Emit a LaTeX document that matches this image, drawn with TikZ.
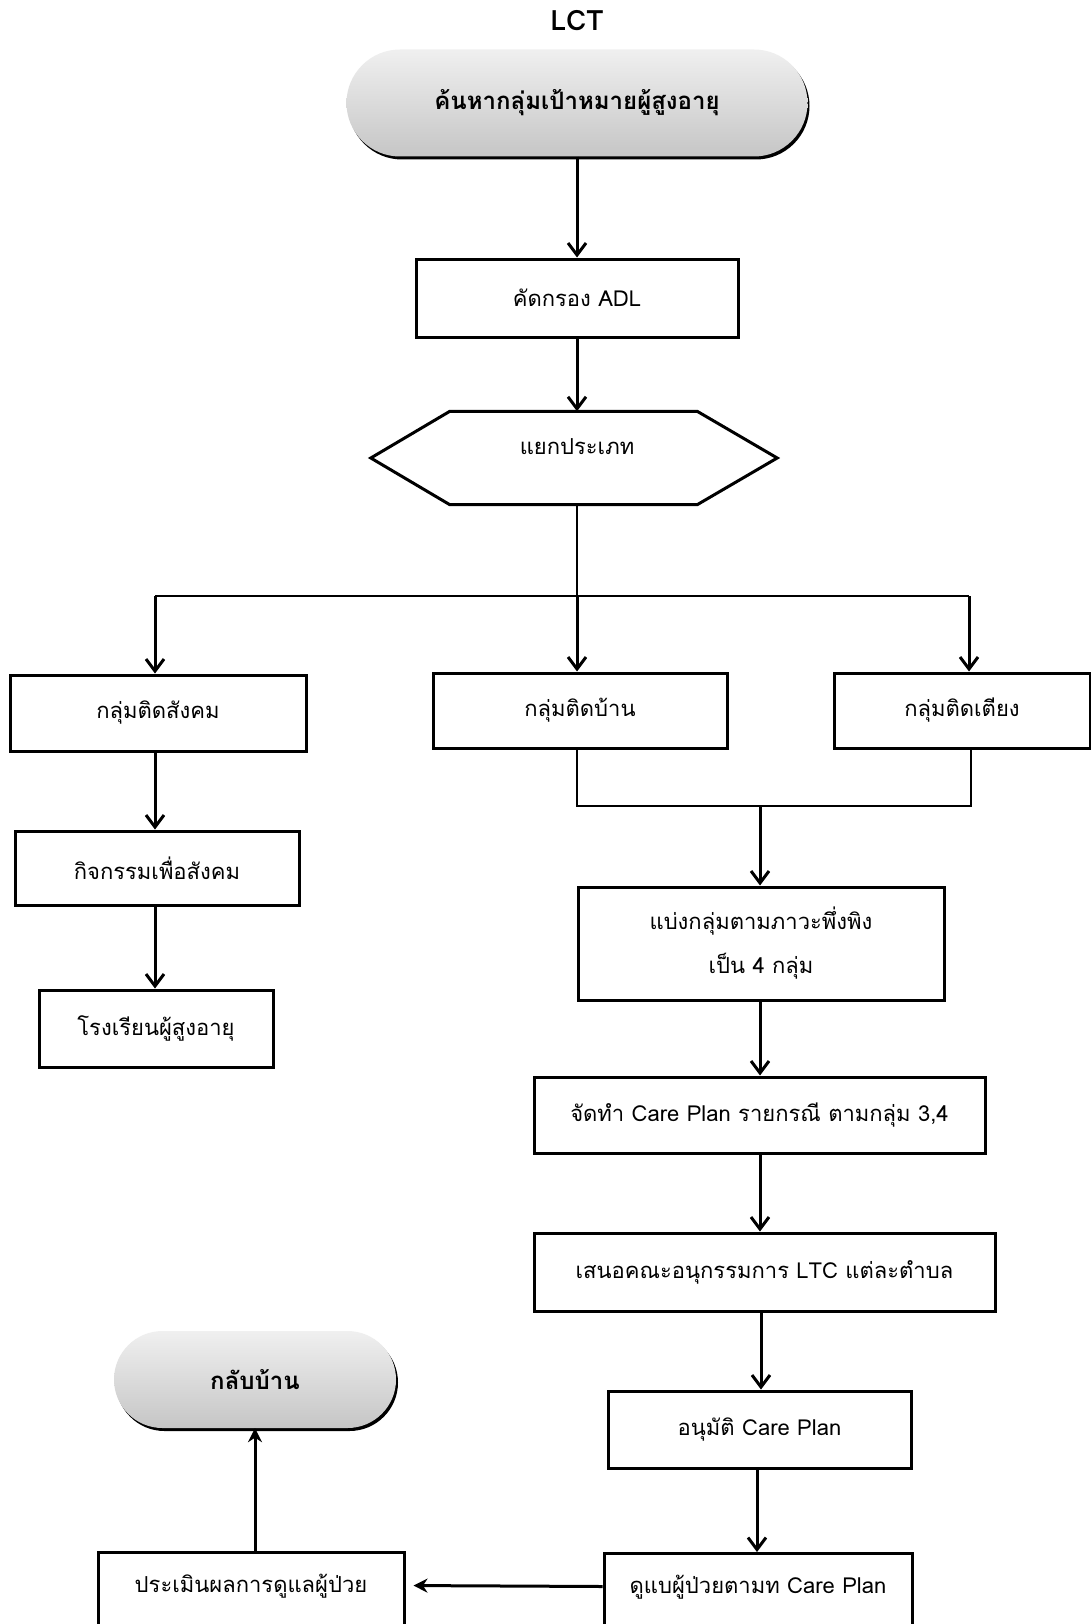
\documentclass[tikz,border=0pt]{standalone}
\usepackage{fontspec}
\setmainfont[Script=Thai]{Loma}
\usetikzlibrary{arrows.meta,shapes.misc,shadows}
\tikzset{
  box/.style={draw=black,line width=3pt,rectangle,inner sep=0pt,align=center,
    font=\fontsize{22}{44}\selectfont},
  cutbox/.style={box,anchor=north,inner ysep=0pt,text height=40pt,text depth=50pt},
  term/.style={rounded rectangle,inner sep=0pt,draw=none,top color=gray!12,bottom color=gray!45,
    general shadow={fill=black,shadow xshift=2pt,shadow yshift=-3pt},
    font=\bfseries\fontsize{24}{28}\selectfont},
  arr/.style={line width=3pt,-{Straight Barb[length=12pt,width=18pt,line width=3pt]}},
  arrs/.style={line width=3pt,-{Stealth[length=14pt,width=14pt]}},
  ln/.style={line width=2pt},
  txt/.style={font=\fontsize{22}{26}\selectfont}
}
\begin{document}
\begin{tikzpicture}[x=1pt,y=-1pt]
\useasboundingbox (0,0) rectangle (1091,1624);
\clip (0,0) rectangle (1091,1624);
\fill[white] (0,0) rectangle (1091,1624);

\node[font=\bfseries\fontsize{28}{32}\selectfont] (lct) at (577,21) {LCT};
\node[term,minimum width=461pt,minimum height=107pt] (start) at (577,103) {ค้นหากลุ่มเป้าหมายผู้สูงอายุ};
\node[box,minimum width=322pt,minimum height=78pt] (adl) at (577,298) {คัดกรอง ADL};

\node[minimum width=406pt,minimum height=93pt,inner sep=0pt] (sort) at (574,458) {};
\node[txt] (sorttxt) at (577,447) {แยกประเภท};
\draw[line width=3pt,line join=miter] (sort.west) -- ([xshift=79pt]sort.north west) -- ([xshift=-80pt]sort.north east)
  -- (sort.east) -- ([xshift=-80pt]sort.south east) -- ([xshift=79pt]sort.south west) -- cycle;

\node[box,minimum width=296pt,minimum height=76pt] (soc) at (158,713) {กลุ่มติดสังคม};
\node[box,minimum width=294pt,minimum height=75pt] (home) at (580,710.5) {กลุ่มติดบ้าน};
\node[box,minimum width=256pt,minimum height=75pt] (bed) at (962,710.5) {กลุ่มติดเตียง};

\node[box,minimum width=284pt,minimum height=74pt] (act) at (157,868) {กิจกรรมเพื่อสังคม};
\node[box,minimum width=234pt,minimum height=77pt] (school) at (156,1028.5) {โรงเรียนผู้สูงอายุ};

\node[box,minimum width=366pt,minimum height=113pt] (grp) at (761,943.5) {แบ่งกลุ่มตามภาวะพึ่งพิง\\เป็น 4 กลุ่ม};
\node[box,minimum width=451pt,minimum height=76pt] (plan) at (759.5,1115) {จัดทำ Care Plan รายกรณี ตามกลุ่ม 3,4};
\node[box,minimum width=461pt,minimum height=78pt] (prop) at (764.5,1272) {เสนอคณะอนุกรรมการ LTC แต่ละตำบล};
\node[box,minimum width=303pt,minimum height=77pt] (appr) at (759.5,1429.5) {อนุมัติ Care Plan};
\node[cutbox,minimum width=308pt] (care) at (758,1552) {ดูแบผู้ป่วยตามท Care Plan};
\node[cutbox,minimum width=306pt] (eval) at (251,1551) {ประเมินผลการดูแลผู้ป่วย};
\node[term,minimum width=282pt,minimum height=97pt] (back) at (255,1379.5) {กลับบ้าน};

\coordinate (split) at (577,596);
\coordinate (bl) at (155,596);
\coordinate (br) at (969,596);
\coordinate (mrg) at (760,806);
\coordinate (mrgR) at (971,806);

\draw[arr] (start.south) -- (adl.north);
\draw[arr] (adl.south) -- (adl.south |- sort.north);
\draw[ln] (split |- sort.south) -- (split);
\draw[ln] (bl) -- (br);
\draw[arr] (bl) -- (bl |- soc.north);
\draw[arr] (split) -- (split |- home.north);
\draw[arr] (br) -- (br |- bed.north);
\draw[arr] (bl |- soc.south) -- (bl |- act.north);
\draw[arr] (bl |- act.south) -- (bl |- school.north);
\draw[ln] (split |- home.south) -- (split |- mrg) -- (mrgR) -- (mrgR |- bed.south);
\draw[arr] (mrg) -- (mrg |- grp.north);
\draw[arr] (mrg |- grp.south) -- (mrg |- plan.north);
\draw[arr] (mrg |- plan.south) -- (mrg |- prop.north);
\draw[arr] ([xshift=1pt]mrg |- prop.south) -- ([xshift=1pt]mrg |- appr.north);
\draw[arr] ([xshift=-3pt]mrg |- appr.south) -- ([xshift=-3pt]mrg |- care.north);
\draw[arrs,shorten >=8pt] ([yshift=12pt]care.west) -- ([yshift=12pt]eval.east);
\draw[arrs] (back.south |- eval.north) -- (back.south);
\end{tikzpicture}
\end{document}
